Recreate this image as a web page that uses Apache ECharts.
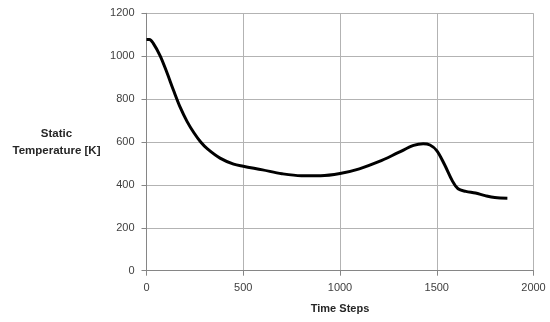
<!DOCTYPE html>
<html>
<head>
<meta charset="utf-8">
<script src="https://cdn.jsdelivr.net/npm/echarts@6/dist/echarts.min.js"></script>
<style>
  html, body { margin: 0; padding: 0; background: #fff; }
  #chart { width: 550px; height: 322px; }
</style>
</head>
<body>
<div id="chart"></div>
<script>
// Static temperature history over the simulation time steps
const timeSteps = [0, 15, 35, 70, 105, 140, 175, 210, 245, 280, 315, 380, 450, 500, 600, 700, 800, 900, 1000, 1100, 1200, 1300, 1380, 1430, 1465, 1500, 1540, 1580, 1610, 1650, 1700, 1750, 1800, 1865];
const temperature = [1078, 1078, 1060, 1003, 925, 840, 760, 695, 643, 600, 568, 525, 497, 487, 470, 452, 443, 443, 453, 475, 508, 550, 584, 592, 586, 560, 495, 420, 382, 370, 362, 350, 341, 338];
const xTicks = [0, 500, 1000, 1500, 2000];
const yTicks = [0, 200, 400, 600, 800, 1000, 1200];

const points = timeSteps.map((t, i) => [t, temperature[i]]);

const labelFont = { fontFamily: 'Liberation Sans, Arial, sans-serif', fontSize: 11, color: '#404040' };
const titleFont = { fontFamily: 'Liberation Sans, Arial, sans-serif', fontSize: 11, fontWeight: 'bold', color: '#262626' };

const chart = echarts.init(document.getElementById('chart'), null, { renderer: 'canvas' });
chart.setOption({
  animation: false,
  grid: { left: 146.5, right: 16.5, top: 13.3, bottom: 51.3, containLabel: false },
  xAxis: {
    type: 'value',
    min: xTicks[0],
    max: xTicks[xTicks.length - 1],
    interval: 500,
    name: 'Time Steps',
    nameLocation: 'middle',
    nameGap: 33,
    nameTextStyle: titleFont,
    axisLine: { show: true, lineStyle: { color: '#868686', width: 1 } },
    axisTick: { show: true, length: 5, lineStyle: { color: '#868686' } },
    axisLabel: Object.assign({ margin: 12, formatter: v => String(v) }, labelFont),
    splitLine: { show: true, lineStyle: { color: '#b3b3b3', width: 1 } }
  },
  yAxis: {
    type: 'value',
    min: yTicks[0],
    max: yTicks[yTicks.length - 1],
    interval: 200,
    name: 'Static\nTemperature [K]',
    nameLocation: 'middle',
    nameRotate: 0,
    nameGap: 90,
    nameTextStyle: Object.assign({ align: 'center', verticalAlign: 'middle', lineHeight: 17 }, titleFont, { fontSize: 11.5 }),
    axisLine: { show: true, lineStyle: { color: '#868686', width: 1 } },
    axisTick: { show: true, length: 5, lineStyle: { color: '#868686' } },
    axisLabel: Object.assign({ margin: 12, formatter: v => String(v) }, labelFont),
    splitLine: { show: true, lineStyle: { color: '#b3b3b3', width: 1 } }
  },
  series: [{
    type: 'line',
    data: points,
    smooth: 0.35,
    showSymbol: false,
    lineStyle: { color: '#000', width: 3 }
  }]
});
</script>
</body>
</html>
